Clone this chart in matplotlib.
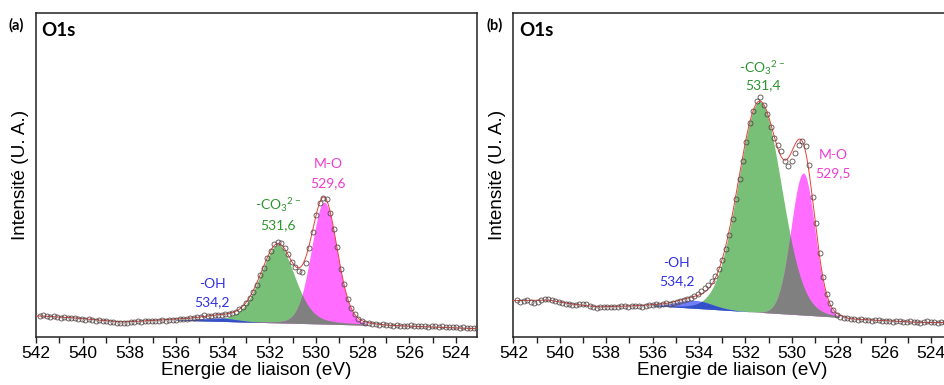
import numpy as np
import matplotlib
matplotlib.use("Agg")
import matplotlib.pyplot as plt
from matplotlib.ticker import MultipleLocator

plt.rcParams['font.family'] = ['Liberation Sans', 'DejaVu Sans']
plt.rcParams['mathtext.fontset'] = 'custom'
plt.rcParams['mathtext.rm'] = 'Lato'
plt.rcParams['mathtext.default'] = 'rm'

# ---------------- data ----------------
E_start = 541.85      # first measured binding energy (eV)
E_step = 0.15         # spacing of the measured points (eV)

# panel (a) measured O1s intensity (arb. units)
int_a = [21, 21.5, 20.5, 20, 20.5, 19.5, 19, 19.5, 19, 18.5, 19, 18, 17.5, 17, 17.5, 16.5, 16, 16.5,
         15.5, 16, 15, 14.5, 14, 13.5, 13.5, 14, 14.5, 15, 15.5, 15, 15.5, 15.5, 16, 15.5, 16, 16.5,
         16, 17, 16.5,
         17, 17.5, 18, 17.5, 19, 18.5, 19.5, 20, 22, 21, 20.5, 21.5, 22, 21.5, 23, 22.5, 24, 25, 27.5,
         30, 34, 39, 45, 52, 61.5, 69, 79, 86, 92.5, 94.5, 94, 89, 82.5, 74.5, 69.5, 66, 65, 74, 89,
         105, 122, 134, 139, 138, 124, 108, 90, 68, 53, 38, 29, 23, 18, 15.5, 14, 13.5,
         13, 12.5, 12, 12.5, 11.5, 12, 11, 11.5, 11, 10.5, 11, 11.5, 10.5, 11, 10.5, 11, 10, 10.5, 11,
         10, 10.5, 9.5, 10, 9.5, 10, 9, 9.5, 9, 8.5, 9, 8.5]

# panel (b) measured O1s intensity (arb. units)
int_b = [37, 35, 36, 36.5, 34.5, 33.5, 35, 36.5, 37.5, 38, 36.5, 35.5, 35, 34, 33, 32.5, 31.5, 31.5,
         32.5, 33, 32.5, 31, 29.5, 29, 29.5, 30, 29.5, 30, 29.5, 30, 30.5, 30.5, 30, 30.5, 31, 30.5,
         30, 31, 31.5,
         32, 32.5, 32, 33, 33.5, 33, 34, 35, 35.5, 37, 37.5, 39, 40.5, 43, 45.5, 48.5, 51.5, 56, 61,
         68, 77, 88, 102, 118, 138, 158, 176, 195, 214, 226, 236, 240, 232, 223, 210, 199, 192, 186,
         176, 171, 176, 184, 192, 196, 191, 172, 140, 114, 84, 60, 43, 34, 27, 22, 20,
         19, 18.5, 17.5, 18, 17, 17.5, 16.5, 17, 16, 16.5, 17, 16, 15.5, 16, 15, 16, 15.5, 14.5, 15,
         15.5, 14.5, 15, 14, 15, 15.5, 14.5, 15, 14, 15, 14.5, 15, 14.5]

# background anchors (binding energy, intensity)
bgE_a = [541.85, 540.5, 539.3, 538.3, 537.2, 536.0, 527.8, 527.0, 525.5, 524.0, 523.1]
bgI_a = [20.5, 18.8, 16.2, 14.2, 15.3, 16.5, 11.5, 10.2, 9.3, 8.5, 7.5]
bgE_b = [541.85, 540.5, 539.5, 538.4, 537.0, 536.0, 528.0, 527.5, 526.0, 524.5, 523.1]
bgI_b = [36.0, 36.5, 32.5, 29.5, 30.2, 31.0, 19.5, 17.0, 15.5, 14.0, 13.8]

# fitting windows (eV)
window_a = (527.8, 536.0)
window_b = (528.0, 536.0)

# fitted components: -OH, -CO3(2-), M-O
comp_names = ['-OH', '-CO$_3$$^{2-}$', 'M-O']
centre_a = [534.2, 531.63, 529.65]
height_a = [3.5, 78, 122]
fwhm_hi_a = [1.8, 1.8, 1.3]   # FWHM on the high binding-energy side
fwhm_lo_a = [1.8, 1.7, 1.3]   # FWHM on the low binding-energy side
lmix_a = [0.0, 0.3, 0.1]      # Lorentzian fraction

centre_b = [534.2, 531.38, 529.5]
height_b = [8, 211, 142]
fwhm_hi_b = [1.8, 2.2, 1.25]
fwhm_lo_b = [1.8, 2.2, 1.18]
lmix_b = [0.0, 0.06, 0.0]

value_labels_a = ['534,2', '531,6', '529,6']
value_labels_b = ['534,2', '531,4', '529,5']

xticks = [542, 540, 538, 536, 534, 532, 530, 528, 526, 524]

# ---------------- style ----------------
C_GREEN = '#78bf78'
C_MAG = '#ff6cff'
C_GRAY = '#808080'
C_BLUE_L = '#6f7ffb'
C_BLUE_D = '#3350c8'
C_RED = '#e8403a'
T_BLUE = '#3030e6'
T_GREEN = '#2e962e'
T_MAG = '#f03cd2'
LBL_FONT = ['Lato', 'DejaVu Sans']


def component(E, c, h, whi, wlo, m):
    w = np.where(E >= c, whi, wlo)
    u = ((E - c) / w) ** 2
    return h * ((1 - m) * np.exp(-4 * np.log(2) * u) + m / (1 + 4 * u))


def draw_panel(ax, intensity, bgE, bgI, window, centres, heights, whi, wlo, mix):
    E = E_start - E_step * np.arange(len(intensity))
    Ef = np.linspace(542.3, 522.8, 4000)
    order = np.argsort(bgE)
    bgf = np.interp(Ef, np.array(bgE)[order], np.array(bgI)[order])
    comps = [component(Ef, c, h, a, b, m) for c, h, a, b, m in zip(centres, heights, whi, wlo, mix)]
    inw = (Ef >= window[0]) & (Ef <= window[1])
    Ew, bw = Ef[inw], bgf[inw]
    cb, cg, cm = [c[inw] for c in comps]
    ax.fill_between(Ew, bw, bw + cg, color=C_GREEN, lw=0, zorder=1)
    ax.fill_between(Ew, bw, bw + cm, color=C_MAG, lw=0, zorder=1.1)
    ax.fill_between(Ew, bw, bw + cb, color=C_BLUE_L, lw=0, zorder=1.2)
    ax.fill_between(Ew, bw, bw + np.minimum(cg, cm), color=C_GRAY, lw=0, zorder=1.3)
    ax.fill_between(Ew, bw, bw + np.minimum(cb, cg), color=C_BLUE_D, lw=0, zorder=1.4)
    env = bgf + comps[0] + comps[1] + comps[2]
    ax.plot(Ef, env, color=C_RED, lw=0.7, zorder=3)
    ax.plot(E, intensity, ls='none', marker='o', ms=3.6, mfc='none', mec='#5a4a4a', mew=0.6,
            zorder=4)
    ax.set_xlim(542, 523.1)
    ax.set_ylim(0, 324)
    ax.set_xticks(xticks)
    ax.xaxis.set_minor_locator(MultipleLocator(1))
    ax.set_yticks([])
    ax.tick_params(axis='x', which='both', direction='out', length=4, width=1.0,
                   labelsize=12.5, pad=2.5, color='#222222')
    for s in ax.spines.values():
        s.set_linewidth(1.1)
        s.set_color('#222222')
    ax.set_xlabel('Energie de liaison (eV)', fontsize=13.6, labelpad=1)
    ax.set_ylabel('Intensité (U. A.)', fontsize=13.6, labelpad=5)
    ax.text(0.013, 0.946, 'O1s', transform=ax.transAxes, ha='left', va='center',
            fontsize=13.5, fontweight='bold', family=LBL_FONT)


fig = plt.figure(figsize=(9.45, 3.85), dpi=100)
ax_a = fig.add_axes([0.0381, 0.1255, 0.4667, 0.8416])
ax_b = fig.add_axes([0.5432, 0.1255, 0.4640, 0.8416])

draw_panel(ax_a, int_a, bgE_a, bgI_a, window_a, centre_a, height_a, fwhm_hi_a, fwhm_lo_a, lmix_a)
draw_panel(ax_b, int_b, bgE_b, bgI_b, window_b, centre_b, height_b, fwhm_hi_b, fwhm_lo_b, lmix_b)

tcolors = [T_BLUE, T_GREEN, T_MAG]
# label anchor points (E, I) for name and value lines
pos_a = [(534.46, 52.7, 34.7), (531.62, 131.7, 111.7), (529.48, 172.7, 153.7)]
pos_b = [(534.95, 73.5, 55.5), (531.26, 268.5, 251.5), (528.22, 181.5, 163.5)]
for ax, pos, vals in [(ax_a, pos_a, value_labels_a), (ax_b, pos_b, value_labels_b)]:
    for name, (x, y1, y2), v, col in zip(comp_names, pos, vals, tcolors):
        ax.text(x, y1, name, color=col, ha='center', va='center', fontsize=10,
                family=LBL_FONT, zorder=5)
        ax.text(x, y2, v, color=col, ha='center', va='center', fontsize=10,
                family=LBL_FONT, zorder=5)

fig.text(0.0169, 0.935, '(a)', ha='center', va='center', fontsize=10.5, fontweight='bold',
         family=LBL_FONT)
fig.text(0.5238, 0.935, '(b)', ha='center', va='center', fontsize=10.5, fontweight='bold',
         family=LBL_FONT)

fig.savefig('out.png', dpi=100)
